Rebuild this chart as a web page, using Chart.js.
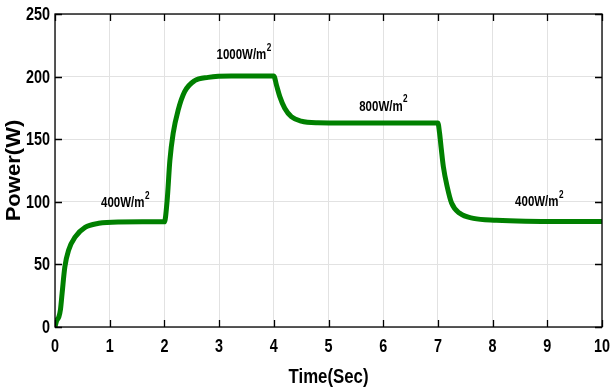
<!DOCTYPE html>
<html>
<head>
<meta charset="utf-8">
<script src="https://cdn.jsdelivr.net/npm/chart.js@4/dist/chart.umd.min.js"></script>
<style>
  html, body { margin: 0; padding: 0; background: #fff; }
  #wrap { width: 611px; height: 392px; }
</style>
</head>
<body>
<div id="wrap"><canvas id="grafico-potencia" width="611" height="392"></canvas></div>
<script>
// Tiempo (s) y potencia (W) de la simulación
const tiempos = [0, 0.03, 0.07, 0.1, 0.13, 0.18, 0.25, 0.37, 0.55, 0.8, 1.16, 1.6, 2.0,
  2.05, 2.1, 2.16, 2.25, 2.37, 2.55, 2.8, 3.22, 3.6, 4.0,
  4.05, 4.11, 4.2, 4.32, 4.5, 4.8, 5.3, 6.0, 6.5, 7.0,
  7.03, 7.06, 7.1, 7.17, 7.25, 7.4, 7.65, 8.07, 8.6, 9.3, 10];
const potencias = [0, 5, 8, 14, 27, 48, 61.5, 72, 79.6, 82.8, 83.9, 84, 84,
  101, 133, 154.7, 173, 188, 196.7, 199.4, 200.5, 200.5, 200.5,
  193, 184, 174.7, 168, 164.5, 163.2, 163, 163, 163, 163,
  155, 143, 128, 112, 99, 90.8, 86.8, 85.3, 84.5, 84.3, 84.3];

// Etiquetas de irradiancia: texto y posición en unidades de datos
const irradTextos = ['400W/m', '1000W/m', '800W/m', '400W/m'];
const irradT = [1.28, 3.45, 6.0, 8.85];
const irradP = [99, 217, 176, 100];

const ticksX = [0, 1, 2, 3, 4, 5, 6, 7, 8, 9, 10];
const ticksY = [0, 50, 100, 150, 200, 250];

const fuente = "'Liberation Sans', Arial, sans-serif";

// Texto estrechado horizontalmente (aspecto de Helvetica Narrow)
function textoEstrecho(ctx, txt, x, y, font, align, esc) {
  ctx.save();
  ctx.font = font;
  ctx.textBaseline = 'middle';
  ctx.textAlign = 'left';
  const w = ctx.measureText(txt).width * esc;
  let x0 = x;
  if (align === 'center') x0 = x - w / 2;
  if (align === 'right') x0 = x - w;
  ctx.translate(x0, y);
  ctx.scale(esc, 1);
  ctx.fillText(txt, 0, 0);
  ctx.restore();
  return w;
}

// Caja, marcas hacia dentro, números de los ejes, títulos y etiquetas
const cajaPlugin = {
  id: 'caja',
  afterDatasetsDraw(chart) {
    const { ctx, chartArea: a, scales: { x, y } } = chart;
    ctx.save();
    ctx.strokeStyle = '#000';
    ctx.lineWidth = 1.3;
    ctx.strokeRect(a.left, a.top, a.right - a.left, a.bottom - a.top);
    const L = 7;
    ctx.beginPath();
    ticksX.forEach(v => {
      const px = Math.round(x.getPixelForValue(v)) + 0.5;
      ctx.moveTo(px, a.bottom); ctx.lineTo(px, a.bottom - L);
      ctx.moveTo(px, a.top); ctx.lineTo(px, a.top + L);
    });
    ticksY.forEach(v => {
      const py = Math.round(y.getPixelForValue(v)) + 0.5;
      ctx.moveTo(a.left, py); ctx.lineTo(a.left + L, py);
      ctx.moveTo(a.right, py); ctx.lineTo(a.right - L, py);
    });
    ctx.stroke();

    ctx.fillStyle = '#000';
    const fTick = 'bold 18px ' + fuente;
    ticksX.forEach(v => textoEstrecho(ctx, String(v), x.getPixelForValue(v), a.bottom + 20, fTick, 'center', 0.8));
    ticksY.forEach(v => textoEstrecho(ctx, String(v), a.left - 5, y.getPixelForValue(v) + 1, fTick, 'right', 0.8));

    // Títulos de los ejes
    textoEstrecho(ctx, 'Time(Sec)', (a.left + a.right) / 2, a.bottom + 50, 'bold 21px ' + fuente, 'center', 0.8);
    ctx.save();
    ctx.translate(14, (a.top + a.bottom) / 2);
    ctx.rotate(-Math.PI / 2);
    textoEstrecho(ctx, 'Power(W)', 0, 0, 'bold 21px ' + fuente, 'center', 1.05);
    ctx.restore();

    // Etiquetas W/m con el exponente 2
    irradTextos.forEach((txt, i) => {
      const cx = x.getPixelForValue(irradT[i]);
      const cy = y.getPixelForValue(irradP[i]);
      ctx.font = 'bold 14px ' + fuente;
      const w1 = ctx.measureText(txt).width * 0.82;
      ctx.font = 'bold 10px ' + fuente;
      const w2 = ctx.measureText('2').width * 0.82;
      const x0 = cx - (w1 + w2) / 2;
      textoEstrecho(ctx, txt, x0, cy, 'bold 14px ' + fuente, 'left', 0.82);
      textoEstrecho(ctx, '2', x0 + w1 + 0.5, cy - 7, 'bold 10px ' + fuente, 'left', 0.82);
    });
    ctx.restore();
  }
};

const ctx = document.getElementById('grafico-potencia').getContext('2d');
new Chart(ctx, {
  type: 'line',
  data: {
    datasets: [{
      data: tiempos.map((t, i) => ({ x: t, y: potencias[i] })),
      borderColor: '#008000',
      borderWidth: 5,
      pointRadius: 0,
      fill: false,
      cubicInterpolationMode: 'monotone',
      borderCapStyle: 'round',
      borderJoinStyle: 'round'
    }]
  },
  options: {
    responsive: false,
    animation: false,
    layout: { padding: { top: 14, right: 9, left: 0, bottom: 0 } },
    plugins: { legend: { display: false }, tooltip: { enabled: false } },
    scales: {
      x: {
        type: 'linear',
        min: 0, max: 10,
        afterBuildTicks: s => { s.ticks = ticksX.map(v => ({ value: v })); },
        afterFit: s => { s.height = 65; s.paddingLeft = 0; s.paddingRight = 0; },
        grid: { color: '#e2e2e2', lineWidth: 1, drawTicks: false },
        border: { display: false },
        ticks: { display: false }
      },
      y: {
        min: 0, max: 250,
        afterBuildTicks: s => { s.ticks = ticksY.map(v => ({ value: v })); },
        afterFit: s => { s.width = 55; s.paddingTop = 0; s.paddingBottom = 0; },
        grid: { color: '#e2e2e2', lineWidth: 1, drawTicks: false },
        border: { display: false },
        ticks: { display: false }
      }
    }
  },
  plugins: [cajaPlugin]
});
</script>
</body>
</html>
